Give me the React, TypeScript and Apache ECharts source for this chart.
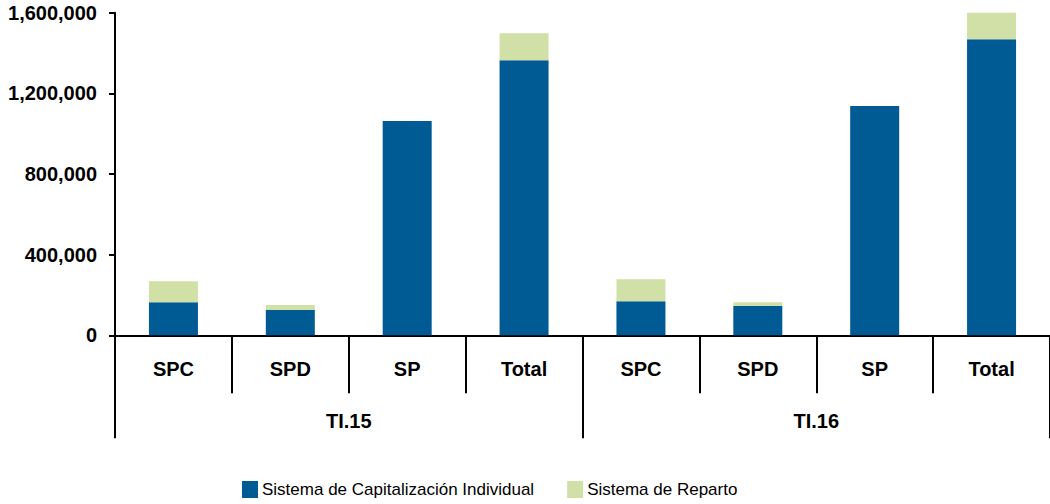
import React, { useEffect, useRef } from "react";
import * as echarts from "echarts";

const categories = ["SPC", "SPD", "SP", "Total", "SPC", "SPD", "SP", "Total"];
const groups = ["TI.15", "TI.16"];
const capitalizacion = [164000, 125000, 1063000, 1364000, 169000, 145000, 1137000, 1468000];
const reparto = [104000, 25000, 0, 134000, 109000, 19000, 0, 133000];
const seriesNames = ["Sistema de Capitalización Individual", "Sistema de Reparto"];
const yTicks = { min: 0, max: 1600000, interval: 400000 };

const BLUE = "#005A94";
const GREEN = "#D0E0A6";
const FONT = "'Liberation Sans', Arial, sans-serif";

export default function App() {
  const ref = useRef<HTMLDivElement>(null);
  useEffect(() => {
    if (!ref.current) return;
    const chart = echarts.init(ref.current, null, { renderer: "svg" });
    chart.setOption({
      animation: false,
      textStyle: { fontFamily: FONT },
      grid: { left: 115, right: 0, top: 12.7, bottom: 168.7, containLabel: false },
      legend: {
        left: 237,
        top: 476,
        itemWidth: 16,
        itemHeight: 17,
        itemGap: 33,
        icon: "rect",
        textStyle: { fontSize: 17, color: "#000", fontFamily: FONT, padding: [0, 0, 0, -1] },
        data: seriesNames,
      },
      xAxis: [
        {
          type: "category",
          data: categories,
          position: "bottom",
          axisLine: { show: true, lineStyle: { color: "#000", width: 2 } },
          axisTick: { show: true, interval: 0, length: 58, lineStyle: { color: "#000", width: 2 } },
          axisLabel: {
            interval: 0,
            margin: 24,
            fontSize: 20,
            fontWeight: "bold",
            color: "#000",
            fontFamily: FONT,
          },
        },
        {
          type: "category",
          data: groups,
          position: "bottom",
          axisLine: { show: false },
          axisTick: { show: true, interval: 0, length: 103, lineStyle: { color: "#000", width: 2 } },
          axisLabel: {
            interval: 0,
            margin: 76,
            fontSize: 20,
            fontWeight: "bold",
            color: "#000",
            fontFamily: FONT,
          },
        },
      ],
      yAxis: {
        type: "value",
        min: yTicks.min,
        max: yTicks.max,
        interval: yTicks.interval,
        axisLine: { show: true, lineStyle: { color: "#000", width: 2 } },
        axisTick: { show: true, length: 6, lineStyle: { color: "#000", width: 2 } },
        splitLine: { show: false },
        axisLabel: {
          margin: 18,
          fontSize: 20,
          fontWeight: "bold",
          color: "#000",
          fontFamily: FONT,
          formatter: (v: number) => v.toLocaleString("en-US"),
        },
      },
      series: [
        {
          name: seriesNames[0],
          type: "bar",
          stack: "a",
          barWidth: 49,
          itemStyle: { color: BLUE },
          data: capitalizacion,
        },
        {
          name: seriesNames[1],
          type: "bar",
          stack: "a",
          barWidth: 49,
          itemStyle: { color: GREEN },
          data: reparto,
        },
      ],
    });
    return () => chart.dispose();
  }, []);
  return (
    <div
      ref={ref}
      style={{ position: "fixed", left: 0, top: 0, width: 1050, height: 504, background: "#fff" }}
    />
  );
}
